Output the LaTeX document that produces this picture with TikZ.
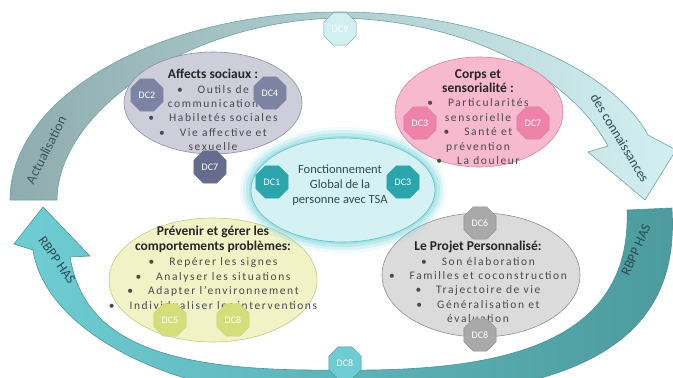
\documentclass[tikz,border=0pt]{standalone}
\usepackage{fontspec}
\setmainfont{Carlito}
\newfontfamily\spacedfont[LetterSpace=14]{Carlito}
\usetikzlibrary{shapes.geometric}

\definecolor{topleft}{HTML}{8FADAF}
\definecolor{topright}{HTML}{D2EFF1}
\definecolor{topline}{HTML}{6FA3A8}
\definecolor{botleft}{HTML}{6ECDD3}
\definecolor{botright}{HTML}{4C9A9C}
\definecolor{botline}{HTML}{4A9499}
\definecolor{affectsfill}{HTML}{CDCEDA}
\definecolor{affectsline}{HTML}{8C8DA3}
\definecolor{affectsbadge}{HTML}{7D83A3}
\definecolor{affectsdark}{HTML}{656C8E}
\definecolor{corpsfill}{HTML}{F6B9CD}
\definecolor{corpsline}{HTML}{DD7F9E}
\definecolor{corpsbadge}{HTML}{EE82A8}
\definecolor{centerfill}{HTML}{D6F1F3}
\definecolor{centerline}{HTML}{5BC3CB}
\definecolor{centerbadge}{HTML}{2AA5AC}
\definecolor{glowteal}{HTML}{7FD5DC}
\definecolor{preventfill}{HTML}{F1F3C6}
\definecolor{preventline}{HTML}{C4CA7C}
\definecolor{preventbadge}{HTML}{D5DE7A}
\definecolor{projetfill}{HTML}{DBDBDB}
\definecolor{projetline}{HTML}{8E8E8E}
\definecolor{projetbadge}{HTML}{A9A9A9}
\definecolor{bodygrey}{HTML}{4A4A4A}
\definecolor{titlegrey}{HTML}{262626}
\definecolor{centertext}{HTML}{2D4B55}

\tikzset{
  topic/.style={ellipse, draw, line width=0.6pt, inner sep=0pt},
  dcbadge/.style={regular polygon, regular polygon sides=8,
    minimum size=35pt, inner sep=0pt, draw, line width=0.5pt, text=white,
    font=\fontsize{10}{10}\selectfont},
  topictext/.style={align=center, inner sep=0pt, text=bodygrey,
    font=\spacedfont\fontsize{11.5}{14.4}\selectfont},
  arrowlabel/.style={inner sep=0pt, font=\fontsize{14}{14}\selectfont},
}
\newcommand{\ttl}[1]{{\normalfont\bfseries\fontsize{13.5}{14.4}\selectfont\color{titlegrey}#1}}
\newcommand{\bul}{\textbullet\hspace{1.3em}}

\begin{document}
\begin{tikzpicture}[x=1pt,y=-1pt]
    \useasboundingbox (0,0) rectangle (673,378);

    % top arrow
    \draw[draw=topline, line width=0.6pt, left color=topleft, right color=topright]
      (10,200) .. controls (10,95) and (160,12) .. (340,12)
      .. controls (480,12) and (610,65) .. (648,135)
      -- (676,150) -- (645,200) -- (588,152) -- (608,146)
      .. controls (565,68) and (455,20) .. (340,18)
      .. controls (190,20) and (58,110) .. (57,200) -- cycle;

    % bottom arrow
    \draw[draw=botline, line width=0.6pt, left color=botleft, right color=botright]
      (672,208) .. controls (680,330) and (600,400) .. (340,400)
      .. controls (170,400) and (45,330) .. (33,250)
      -- (14,244) -- (43,207) -- (90,256) -- (70,257)
      .. controls (85,345) and (170,372) .. (340,370)
      .. controls (500,372) and (632,345) .. (627,210) -- cycle;

    % arrow labels
    \node[arrowlabel, rotate=63, text=centertext!80!gray] (actual) at (46,150) {Actualisation};
    \node[arrowlabel, rotate=-59, text=centertext, font=\fontsize{13.5}{14}\selectfont] (connais) at (620,138) {des connaissances};
    \node[arrowlabel, rotate=-55, text=centertext, font=\fontsize{13.5}{14}\selectfont] (rbppleft) at (57,260) {RBPP HAS};
    \node[arrowlabel, rotate=66, text=centertext, font=\fontsize{13.5}{14}\selectfont] (rbppright) at (636,250) {RBPP HAS};

    % topics
    \node[topic, fill=affectsfill, draw=affectsline, minimum width=178, minimum height=102] (affects) at (213,103) {};
    \node[topic, fill=corpsfill, draw=corpsline, minimum width=168, minimum height=110] (corps) at (479,112) {};
    \node[topic, fill=preventfill, draw=preventline, minimum width=208, minimum height=124] (prevent) at (213,280) {};
    \node[topic, fill=projetfill, draw=projetline, minimum width=198, minimum height=124] (projet) at (481,275) {};

    \foreach \g/\o in {11/0.12,8/0.2,5/0.3,2/0.45}
      \fill[glowteal, opacity=\o] (343,190) ellipse [x radius=92+\g, y radius=52+\g];
    \node[topic, fill=centerfill, draw=centerline, minimum width=184, minimum height=104] (global) at (343,190) {};

    % texts
    \node[topictext] (affectstext) at (213,110)
      {\ttl{Affects sociaux :}\\ \bul Outils de\\ communication\\ \bul Habiletés sociales\\ \bul Vie affective et\\ sexuelle};
    \node[topictext] (corpstext) at (478,117)
      {\ttl{Corps et}\\ \ttl{sensorialité :}\\ \bul Particularités\\ sensorielle\\ \bul Santé et\\ prévention\\ \bul La douleur};
    \node[topictext, font=\spacedfont\fontsize{11.5}{14.8}\selectfont] (preventtext) at (213,268)
      {\ttl{Prévenir et gérer les}\\ \ttl{comportements problèmes:}\\ \bul Repérer les signes\\ \bul Analyser les situations\\ \bul Adapter l’environnement\\ \bul Individualiser les interventions};
    \node[topictext] (projettext) at (478,282)
      {\ttl{Le Projet Personnalisé:}\\ \bul Son élaboration\\ \bul Familles et coconstruction\\ \bul Trajectoire de vie\\ \bul Généralisation et\\ évaluation};
    \node[align=center, inner sep=0pt, text=centertext, font=\fontsize{12.5}{15}\selectfont] (globaltext) at (340,185)
      {Fonctionnement\\ Global de la\\ personne avec TSA};

    % badges
    \node[dcbadge, fill=topright, draw=topline] (dcnine) at (340,29) {DC9};
    \node[dcbadge, fill=affectsbadge, draw=affectsline] (dctwo) at (147,95) {DC2};
    \node[dcbadge, fill=affectsbadge, draw=affectsline] (dcfour) at (270,93) {DC4};
    \node[dcbadge, fill=affectsdark, draw=affectsdark] (dcsevena) at (210,167) {DC7};
    \node[dcbadge, fill=corpsbadge, draw=corpsline] (dcthreeb) at (420,123) {DC3};
    \node[dcbadge, fill=corpsbadge, draw=corpsline] (dcsevenb) at (533,123) {DC7};
    \node[dcbadge, fill=centerbadge, draw=centerbadge] (dcone) at (272,182) {DC1};
    \node[dcbadge, fill=centerbadge, draw=centerbadge] (dcthree) at (403,182) {DC3};
    \node[dcbadge, fill=preventbadge, draw=preventline] (dcfive) at (170,320) {DC5};
    \node[dcbadge, fill=preventbadge, draw=preventline] (dceighta) at (233,320) {DC8};
    \node[dcbadge, fill=projetbadge, draw=projetline] (dcsix) at (480,223) {DC6};
    \node[dcbadge, fill=projetbadge, draw=projetline] (dceightb) at (480,335) {DC8};
    \node[dcbadge, fill=botleft, draw=botline] (dceightc) at (345,363) {DC8};
\end{tikzpicture}
\end{document}
